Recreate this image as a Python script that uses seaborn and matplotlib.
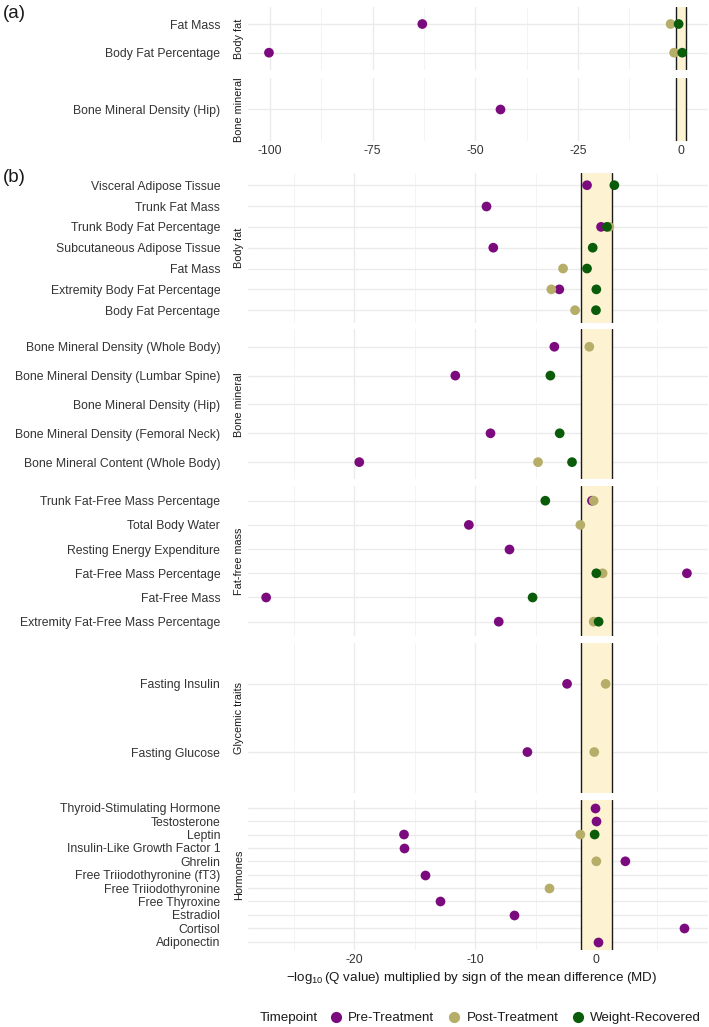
import numpy as np
import pandas as pd
import matplotlib
matplotlib.use('Agg')
import matplotlib.pyplot as plt
import seaborn as sns
from matplotlib.ticker import MultipleLocator

# values: -log10(Q) * sign(MD), None = no point
timepoints = ['Pre-Treatment', 'Post-Treatment', 'Weight-Recovered']
colors = {'Pre-Treatment': '#7B0A7E', 'Post-Treatment': '#B5AD68', 'Weight-Recovered': '#0A5C0A'}

# ---- panel (a)
a_fat_traits = ['Fat Mass', 'Body Fat Percentage']
a_fat_pre = [-62.9, -100.2]
a_fat_post = [-2.5, -1.65]
a_fat_wr = [-0.55, 0.33]

a_bone_traits = ['Bone Mineral Density (Hip)']
a_bone_pre = [-44.1]
a_bone_post = [None]
a_bone_wr = [None]

# ---- panel (b)
fat_traits = ['Visceral Adipose Tissue', 'Trunk Fat Mass', 'Trunk Body Fat Percentage',
              'Subcutaneous Adipose Tissue', 'Fat Mass', 'Extremity Body Fat Percentage',
              'Body Fat Percentage']
fat_pre = [-0.77, -9.16, 0.39, -8.52, None, -3.06, None]
fat_post = [None, None, 1.07, None, -2.75, -3.72, -1.76]
fat_wr = [1.49, None, 0.88, -0.3, -0.77, 0.0, -0.03]

bone_traits = ['Bone Mineral Density (Whole Body)', 'Bone Mineral Density (Lumbar Spine)',
               'Bone Mineral Density (Hip)', 'Bone Mineral Density (Femoral Neck)',
               'Bone Mineral Content (Whole Body)']
bone_pre = [-3.47, -11.66, None, -8.75, -19.6]
bone_post = [-0.58, None, None, None, -4.82]
bone_wr = [None, -3.8, None, -3.03, -2.01]

ffm_traits = ['Trunk Fat-Free Mass Percentage', 'Total Body Water', 'Resting Energy Expenditure',
              'Fat-Free Mass Percentage', 'Fat-Free Mass', 'Extremity Fat-Free Mass Percentage']
ffm_pre = [-0.36, -10.54, -7.22, 7.49, -27.3, -8.07]
ffm_post = [-0.22, -1.32, None, 0.52, None, -0.22]
ffm_wr = [-4.22, None, None, 0.0, -5.27, 0.19]

gly_traits = ['Fasting Insulin', 'Fasting Glucose']
gly_pre = [-2.42, -5.7]
gly_post = [0.77, -0.17]
gly_wr = [None, None]

hor_traits = ['Thyroid-Stimulating Hormone', 'Testosterone', 'Leptin', 'Insulin-Like Growth Factor 1',
              'Ghrelin', 'Free Triiodothyronine (fT3)', 'Free Triiodothyronine', 'Free Thyroxine',
              'Estradiol', 'Cortisol', 'Adiponectin']
hor_pre = [-0.11, -0.05, -15.9, -15.9, 2.4, -14.2, None, -12.93, -6.84, 7.22, 0.11]
hor_post = [None, None, -1.32, None, 0.0, None, -3.89, None, None, None, None]
hor_wr = [None, None, -0.14, None, None, None, None, None, None, None, None]

band = 1.301  # -log10(0.05)


def long_df(traits, pre, post, wr):
    rows = []
    for tp, vals in zip(timepoints, [pre, post, wr]):
        for t, v in zip(traits, vals):
            if v is not None:
                rows.append((t, v, tp))
    return pd.DataFrame(rows, columns=['trait', 'value', 'Timepoint'])


sns.set_theme(style='white')
plt.rcParams['font.family'] = ['Liberation Sans', 'DejaVu Sans']
plt.rcParams['axes.unicode_minus'] = False
plt.rcParams['mathtext.fontset'] = 'custom'
plt.rcParams['mathtext.rm'] = 'Liberation Sans'
plt.rcParams['mathtext.it'] = 'Liberation Sans:italic'

W, H = 709, 1027
fig = plt.figure(figsize=(W / 100, H / 100), dpi=100)

X0, X1 = 248, 707.6
txt_col = '#333333'


def make_ax(top, bottom):
    return fig.add_axes([X0 / W, 1 - bottom / H, (X1 - X0) / W, (bottom - top) / H])


def draw(ax, traits, pre, post, wr, xlim, major, minor, show_x, legend=False):
    df = long_df(traits, pre, post, wr)
    ax.axvspan(-band, band, color='#FDF3D2', lw=0, zorder=1)
    ax.axvline(-band, color='#1a1a1a', lw=1.0, zorder=2)
    ax.axvline(band, color='#1a1a1a', lw=1.0, zorder=2)
    sns.stripplot(data=df, x='value', y='trait', hue='Timepoint', order=traits,
                  hue_order=timepoints, palette=colors, jitter=False, dodge=False,
                  size=7, linewidth=0, ax=ax, legend=legend)
    for c in ax.collections:
        c.set_zorder(3)
    ax.set_xlim(xlim)
    ax.set_ylim(len(traits) - 0.4, -0.6)
    ax.xaxis.set_major_locator(MultipleLocator(major))
    ax.xaxis.set_minor_locator(MultipleLocator(minor))
    ax.set_axisbelow(True)
    ax.grid(True, which='major', axis='both', color='#EBEBEB', lw=1.0)
    ax.grid(True, which='minor', axis='x', color='#F1F1F1', lw=0.6)
    ax.set_xlabel('')
    ax.set_ylabel('')
    for s in ax.spines.values():
        s.set_visible(False)
    ax.tick_params(axis='y', length=0, pad=20, labelsize=8.8, labelcolor=txt_col)
    ax.tick_params(axis='x', which='both', length=0, pad=3, labelsize=8.8, labelcolor=txt_col)
    if not show_x:
        ax.tick_params(axis='x', labelbottom=False)
    return ax


def strip(label, top, bottom):
    fig.text(239 / W, 1 - (top + bottom) / 2 / H, label, rotation=90, ha='center', va='center',
             fontsize=7.8, color='#1a1a1a')


# panel (a)
xlim_a = (-105.3, 6.5)
ax = make_ax(6.8, 69.9)
draw(ax, a_fat_traits, a_fat_pre, a_fat_post, a_fat_wr, xlim_a, 25, 12.5, False)
strip('Body fat', 6.8, 69.9)
ax = make_ax(77.8, 140.9)
draw(ax, a_bone_traits, a_bone_pre, a_bone_post, a_bone_wr, xlim_a, 25, 12.5, True)
strip('Bone mineral', 77.8, 140.9)

# panel (b)
xlim_b = (-28.8, 9.2)
groups = [
    ('Body fat', fat_traits, fat_pre, fat_post, fat_wr),
    ('Bone mineral', bone_traits, bone_pre, bone_post, bone_wr),
    ('Fat-free mass', ffm_traits, ffm_pre, ffm_post, ffm_wr),
    ('Glycemic traits', gly_traits, gly_pre, gly_post, gly_wr),
    ('Hormones', hor_traits, hor_pre, hor_post, hor_wr),
]
handles, labels = None, None
for i, (name, traits, pre, post, wr) in enumerate(groups):
    top = 172.7 + i * 156.75
    bottom = top + 150
    ax = make_ax(top, bottom)
    draw(ax, traits, pre, post, wr, xlim_b, 10, 5, i == len(groups) - 1, legend=(i == 0))
    if i == 0:
        handles, labels = ax.get_legend_handles_labels()
        ax.get_legend().remove()
    strip(name, top, bottom)

fig.text(3 / W, 1 - 13.5 / H, '(a)', fontsize=13.5, va='center', ha='left', color='#1a1a1a')
fig.text(3 / W, 1 - 177 / H, '(b)', fontsize=13.5, va='center', ha='left', color='#1a1a1a')

fig.text(471.5 / W, 1 - 977.7 / H,
         r'$-\log_{10}$(Q value) multiplied by sign of the mean difference (MD)',
         ha='center', va='center', fontsize=9.6, color='#1a1a1a')

fig.text(260 / W, 1 - 1018.3 / H, 'Timepoint', ha='left', va='center', fontsize=9.6, color='#1a1a1a')
fig.legend(handles, labels, loc='center left', bbox_to_anchor=(331 / W, 1 - 1018.3 / H),
           ncol=3, frameon=False, fontsize=9.6, handlelength=0.8, handletextpad=0.5,
           columnspacing=1.1, borderpad=0, borderaxespad=0, labelcolor='#1a1a1a',
           markerscale=1.15)

fig.savefig('out.png', dpi=100, facecolor='white')
